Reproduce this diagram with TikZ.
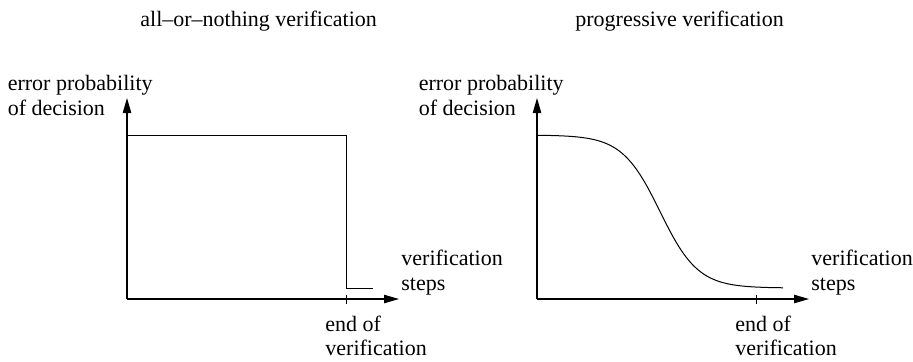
\documentclass[tikz,border=0pt]{standalone}
\usepackage{fontspec}
\setmainfont{Liberation Serif}
\usetikzlibrary{arrows.meta}

\tikzset{
  axis/.style={line width=0.55pt, -{Triangle[length=7.5pt, width=4.2pt]}},
  graphline/.style={line width=0.5pt},
  lbl/.style={anchor=base west, inner sep=0pt, font=\fontsize{11}{13}\selectfont},
  lble/.style={anchor=base east, inner sep=0pt, font=\fontsize{11}{13}\selectfont},
}

\begin{document}
\begin{tikzpicture}[x=0.5pt, y=-0.5pt]
\useasboundingbox (0,0) rectangle (913,361);

% titles
\node[lbl] (titleA) at (140,26) {all--or--nothing verification};
\node[lbl] (titleB) at (575,26) {progressive verification};

% ---------- left plot: all-or-nothing ----------
\coordinate (oA) at (127,299);
\coordinate (yA) at (127,98);
\coordinate (xA) at (399,299);
\coordinate (hiA) at (127,135);
\coordinate (dropA) at (346,135);
\coordinate (lowA) at (346,288);
\coordinate (endA) at (373,288);
\coordinate (tickAtop) at (346,295);
\coordinate (tickAbot) at (346,304);

\draw[axis] (oA) -- (yA);
\draw[axis] (oA) -- (xA);
\draw[graphline] (hiA) -- (dropA) -- (lowA) -- (endA);
\draw[graphline] (tickAtop) -- (tickAbot);

\node[lble] (ylabA1) at (153,90) {error probability};
\node[lbl] (ylabA2) at ([yshift=-12.5pt]ylabA1.base west) {of decision};
\node[lbl] (xlabA1) at (401,265) {verification};
\node[lbl] (xlabA2) at (401,290) {steps};
\node[lbl] (endlabA1) at (325,331) {end of};
\node[lbl] (endlabA2) at (325,355) {verification};

% ---------- right plot: progressive ----------
\coordinate (oB) at (537,299);
\coordinate (yB) at (537,98);
\coordinate (xB) at (809,299);
\coordinate (tickBtop) at (756,295);
\coordinate (tickBbot) at (756,304);

\draw[axis] (oB) -- (yB);
\draw[axis] (oB) -- (xB);
\draw[graphline] plot[domain=537:783, samples=120, smooth]
  (\x, {288-153/(1+exp((\x-660)/19))});
\draw[graphline] (tickBtop) -- (tickBbot);

\node[lble] (ylabB1) at (564,90) {error probability};
\node[lbl] (ylabB2) at ([yshift=-12.5pt]ylabB1.base west) {of decision};
\node[lbl] (xlabB1) at (811,265) {verification};
\node[lbl] (xlabB2) at (811,290) {steps};
\node[lbl] (endlabB1) at (735,331) {end of};
\node[lbl] (endlabB2) at (735,355) {verification};
\end{tikzpicture}
\end{document}
